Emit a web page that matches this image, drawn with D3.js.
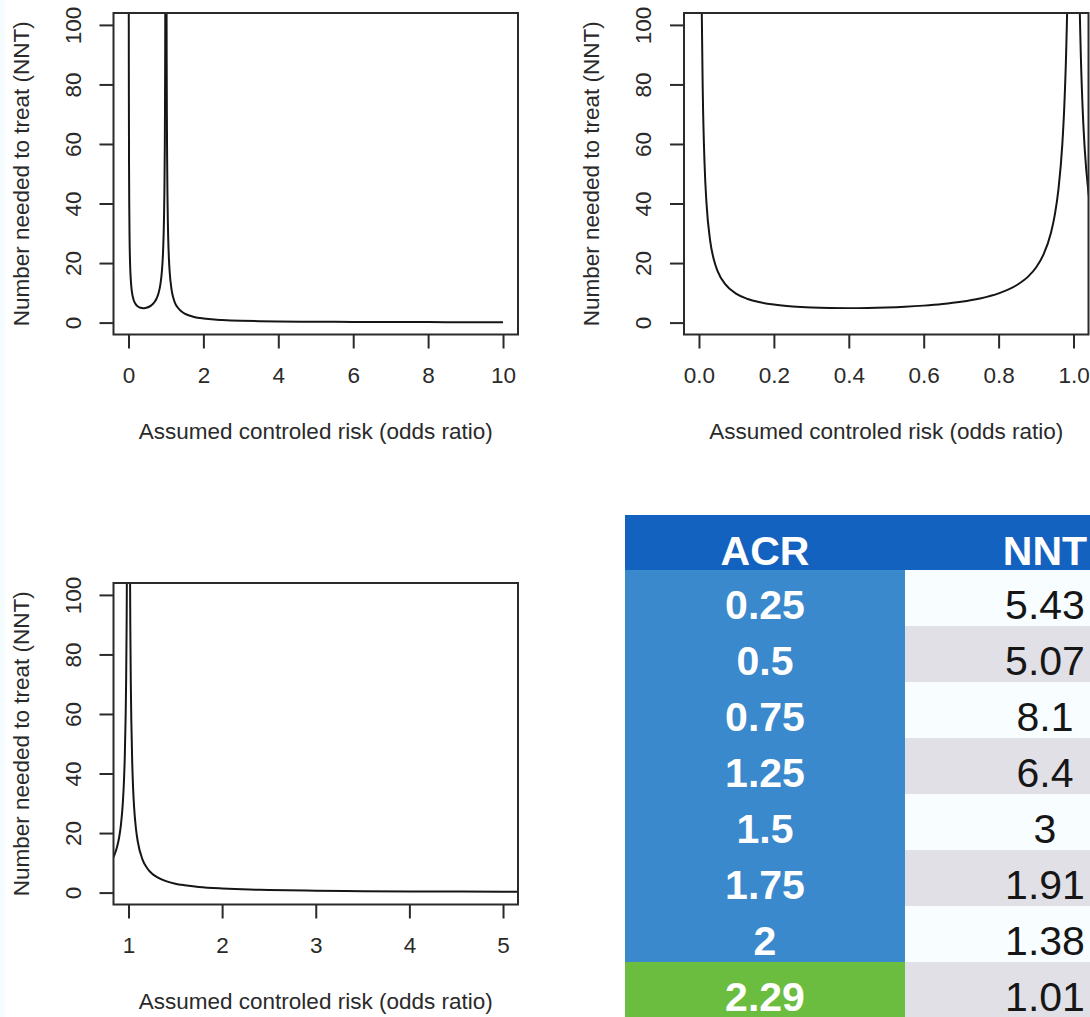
<!DOCTYPE html>
<html>
<head>
<meta charset="utf-8">
<script src="https://cdn.jsdelivr.net/npm/d3@7"></script>
<style>
  html, body { margin: 0; padding: 0; background: #ffffff; }
  svg { display: block; }
  text { font-family: "Liberation Sans", Arial, Helvetica, sans-serif; }
</style>
</head>
<body>
<svg id="chart" width="1090" height="1017"></svg>
<script>
// ---- NNT curve, branch below the pole at 1 ----
const riskBelowOne = [0.005, 0.0075, 0.01, 0.015, 0.02, 0.03, 0.04, 0.05, 0.07, 0.1,
  0.13, 0.16, 0.2, 0.25, 0.3, 0.35, 0.4, 0.45, 0.5, 0.55, 0.6, 0.65, 0.7, 0.75,
  0.8, 0.85, 0.88, 0.9, 0.92, 0.94, 0.95, 0.96, 0.97, 0.975, 0.98, 0.985, 0.99];
const nntBelowOne = [155, 104, 78.5, 53, 40.2, 27.4, 21, 17.2, 12.9, 9.64,
  7.94, 6.9, 6.05, 5.43, 5.08, 4.91, 4.86, 4.92, 5.07, 5.32, 5.7, 6.23, 6.99, 8.1,
  9.8, 12.7, 15.6, 18.5, 22.9, 30.3, 36.2, 45, 59.7, 71.5, 89.2, 118.6, 177.5];

// ---- NNT curve, branch above the pole at 1 ----
const riskAboveOne = [1.01, 1.015, 1.02, 1.025, 1.03, 1.04, 1.05, 1.06, 1.08, 1.1,
  1.15, 1.2, 1.25, 1.3, 1.4, 1.5, 1.6, 1.75, 2, 2.29, 2.5, 3, 3.5, 4, 5, 6, 7, 8, 9, 10];
const nntAboveOne = [176, 117, 87.6, 70, 58.2, 43.5, 34.6, 28.7, 21.4, 17,
  11.1, 8.2, 6.4, 5.3, 3.87, 3, 2.47, 1.91, 1.38, 1.01, 0.87, 0.63, 0.49, 0.4, 0.29, 0.23, 0.18, 0.16, 0.14, 0.12];

// ---- axis limits and ticks of the three panels ----
const panelXLimits = [[0, 10], [0, 1], [1, 5]];
const panelXTicks = [[0, 2, 4, 6, 8, 10], [0, 0.2, 0.4, 0.6, 0.8, 1.0], [1, 2, 3, 4, 5]];
const panelXFormats = ["d", ".1f", "d"];
const yLimits = [0, 100];
const yTicks = [0, 20, 40, 60, 80, 100];
const xAxisTitle = "Assumed controled risk (odds ratio)";
const yAxisTitle = "Number needed to treat (NNT)";

// ---- lookup table ----
const tableHeaders = ["ACR", "NNT"];
const acrValues = ["0.25", "0.5", "0.75", "1.25", "1.5", "1.75", "2", "2.29"];
const nntValues = ["5.43", "5.07", "8.1", "6.4", "3", "1.91", "1.38", "1.01"];
const highlightedAcr = "2.29";

// ---------------------------------------------------------------
const svg = d3.select("#chart");
const INK = "#2a2a2a";
const FONT = 22.5;

// faint tinted strip along the left edge of the page
svg.append("rect").attr("x", 0).attr("y", 0).attr("width", 5).attr("height", 1017)
  .attr("fill", "#f4fcff");

// plot-region boxes
const panelBoxes = [
  { left: 113.5, top: 13, width: 404.5, height: 321.5 },
  { left: 684,   top: 13, width: 404.5, height: 321.5 },
  { left: 113.5, top: 583, width: 404.5, height: 321.5 }
];

// R-style 4% padding around the axis limits
const pad = ([lo, hi]) => [lo - 0.04 * (hi - lo), hi + 0.04 * (hi - lo)];

const branches = [
  d3.zip(riskBelowOne, nntBelowOne),
  d3.zip(riskAboveOne, nntAboveOne)
];

panelBoxes.forEach((box, i) => {
  const x = d3.scaleLinear().domain(pad(panelXLimits[i])).range([box.left, box.left + box.width]);
  const y = d3.scaleLinear().domain(pad(yLimits)).range([box.top + box.height, box.top]);
  const g = svg.append("g");

  const clipId = "clip" + i;
  svg.append("clipPath").attr("id", clipId)
    .append("rect").attr("x", box.left).attr("y", box.top)
    .attr("width", box.width).attr("height", box.height);

  // curve
  const line = d3.line().x(d => x(d[0])).y(d => y(d[1])).curve(d3.curveMonotoneX);
  g.append("g").attr("clip-path", `url(#${clipId})`)
    .selectAll("path").data(branches).join("path")
    .attr("d", line).attr("fill", "none")
    .attr("stroke", "#151515").attr("stroke-width", 2);

  // box
  g.append("rect").attr("x", box.left).attr("y", box.top)
    .attr("width", box.width).attr("height", box.height)
    .attr("fill", "none").attr("stroke", INK).attr("stroke-width", 2);

  // x axis
  const xa = g.append("g").attr("transform", `translate(0,${box.top + box.height})`)
    .call(d3.axisBottom(x).tickValues(panelXTicks[i]).tickFormat(d3.format(panelXFormats[i]))
      .tickSize(14).tickSizeOuter(0));
  xa.select(".domain").remove();
  xa.selectAll(".tick line").attr("stroke", INK).attr("stroke-width", 2);
  xa.selectAll(".tick text").attr("y", 48.5).attr("dy", 0)
    .attr("fill", INK).style("font-size", FONT + "px").style("font-family", '"Liberation Sans", Arial, sans-serif');

  // y axis with rotated labels
  const ya = g.append("g").attr("transform", `translate(${box.left},0)`)
    .call(d3.axisLeft(y).tickValues(yTicks).tickFormat(d3.format("d")).tickSize(14).tickSizeOuter(0));
  ya.select(".domain").remove();
  ya.selectAll(".tick line").attr("stroke", INK).attr("stroke-width", 2);
  ya.selectAll(".tick text")
    .attr("transform", "rotate(-90)").attr("x", 0).attr("y", -33).attr("dy", 0)
    .attr("text-anchor", "middle")
    .attr("fill", INK).style("font-size", FONT + "px").style("font-family", '"Liberation Sans", Arial, sans-serif');

  // titles
  g.append("text")
    .attr("x", box.left + box.width / 2).attr("y", box.top + box.height + 104)
    .attr("text-anchor", "middle").attr("fill", INK).style("font-size", FONT + "px")
    .text(xAxisTitle);
  g.append("text")
    .attr("transform", `translate(${box.left - 85},${box.top + box.height / 2}) rotate(-90)`)
    .attr("text-anchor", "middle").attr("fill", INK).style("font-size", FONT + "px")
    .text(yAxisTitle);
});

// ---- table ----
const col = d3.scaleBand().domain(tableHeaders).range([625, 1185]);
const row = d3.scaleBand().domain(acrValues).range([570, 570 + 8 * 56]);
const headerTop = 515, headerBottom = 570;
const tableFont = 41;
const textDrop = 48.5;

const tbl = svg.append("g");
tbl.append("rect").attr("x", col.range()[0]).attr("y", headerTop)
  .attr("width", col.range()[1] - col.range()[0]).attr("height", headerBottom - headerTop)
  .attr("fill", "#1462bf");
tbl.selectAll("text.head").data(tableHeaders).join("text").attr("class", "head")
  .attr("x", d => col(d) + col.bandwidth() / 2).attr("y", headerTop + 50)
  .attr("text-anchor", "middle").attr("fill", "#ffffff")
  .style("font-size", tableFont + "px").style("font-weight", "bold").text(d => d);

const rows = tbl.selectAll("g.row").data(d3.zip(acrValues, nntValues)).join("g").attr("class", "row");
rows.append("rect")
  .attr("x", col("ACR")).attr("y", d => row(d[0]))
  .attr("width", col.bandwidth()).attr("height", row.bandwidth() + 0.5)
  .attr("fill", d => d[0] === highlightedAcr ? "#6bbd3f" : "#3a89cd");
rows.append("rect")
  .attr("x", col("NNT")).attr("y", d => row(d[0]))
  .attr("width", col.bandwidth()).attr("height", row.bandwidth() + 0.5)
  .attr("fill", (d, i) => i % 2 === 0 ? "#f8fdff" : "#e1e0e6");
rows.append("text")
  .attr("x", col("ACR") + col.bandwidth() / 2).attr("y", d => row(d[0]) + textDrop)
  .attr("text-anchor", "middle").attr("fill", "#ffffff")
  .style("font-size", tableFont + "px").style("font-weight", "bold").text(d => d[0]);
rows.append("text")
  .attr("x", col("NNT") + col.bandwidth() / 2).attr("y", d => row(d[0]) + textDrop)
  .attr("text-anchor", "middle").attr("fill", "#161616")
  .style("font-size", tableFont + "px").text(d => d[1]);
</script>
</body>
</html>
